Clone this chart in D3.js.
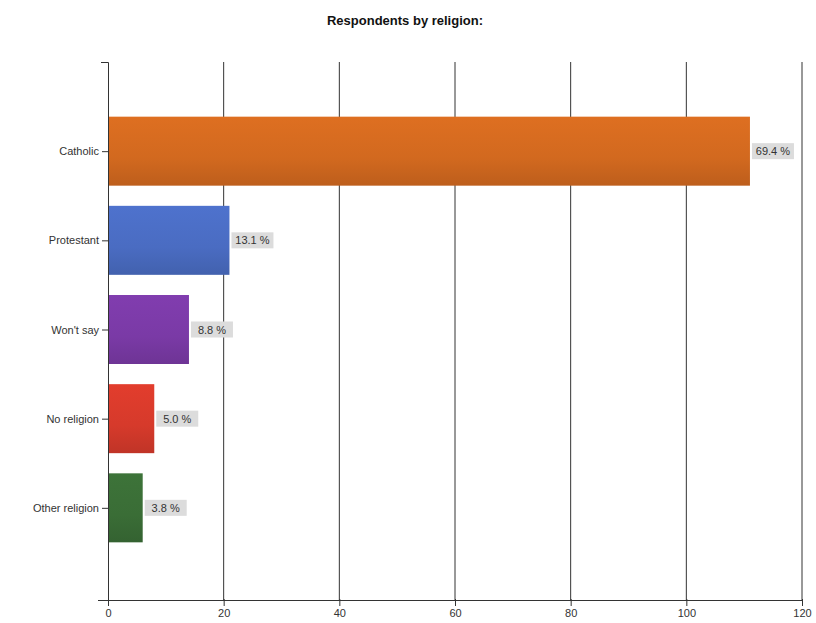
<!DOCTYPE html>
<html>
<head>
<meta charset="utf-8">
<script src="https://cdn.jsdelivr.net/npm/d3@7"></script>
<style>
  html, body { margin: 0; padding: 0; background: #fff; }
  svg { display: block; font-family: "Liberation Sans", Arial, sans-serif; }
</style>
</head>
<body>
<svg id="chart" width="816" height="623"></svg>
<script>
// Respondents by religion (counts)
const categories = ["Catholic", "Protestant", "Won't say", "No religion", "Other religion"];
const counts = [111, 21, 14, 8, 6];
const barColors = ["#d2691f", "#4a6cc2", "#7a3aa6", "#d63a2b", "#3a6d36"];
const xTicks = [0, 20, 40, 60, 80, 100, 120];
const title = "Respondents by religion:";

const svg = d3.select("#chart");
const margin = { left: 108, right: 14, top: 62, bottom: 23 };
const W = 816, H = 623;
const plotW = W - margin.left - margin.right;
const plotH = H - margin.top - margin.bottom;

const total = d3.sum(counts);

const x = d3.scaleLinear().domain([0, 120]).range([0, plotW]);
const y = d3.scalePoint().domain(categories).range([0, plotH - 3]).padding(1);
const barH = 69;

const defs = svg.append("defs");
barColors.forEach((c, i) => {
  const g = defs.append("linearGradient").attr("id", "grad" + i)
    .attr("x1", 0).attr("y1", 0).attr("x2", 0).attr("y2", 1);
  const base = d3.color(c);
  g.append("stop").attr("offset", "0%").attr("stop-color", base.brighter(0.15));
  g.append("stop").attr("offset", "60%").attr("stop-color", base);
  g.append("stop").attr("offset", "100%").attr("stop-color", base.darker(0.3));
});

svg.append("text")
  .attr("x", 405).attr("y", 25)
  .attr("text-anchor", "middle")
  .attr("font-size", 13).attr("font-weight", "bold")
  .attr("fill", "#111")
  .text(title);

const g = svg.append("g").attr("transform", `translate(${margin.left},${margin.top})`);

// vertical gridlines
g.selectAll("line.grid").data(xTicks.slice(1)).join("line")
  .attr("class", "grid")
  .attr("x1", d => x(d)).attr("x2", d => x(d))
  .attr("y1", 0).attr("y2", plotH)
  .attr("stroke", "#333").attr("stroke-width", 1);

// bars
g.selectAll("rect.bar").data(categories).join("rect")
  .attr("class", "bar")
  .attr("x", 0)
  .attr("y", d => y(d) - barH / 2)
  .attr("width", (d, i) => x(counts[i]))
  .attr("height", barH)
  .attr("fill", (d, i) => `url(#grad${i})`);

// value labels (percent of total)
const lbl = g.selectAll("g.lbl").data(categories).join("g")
  .attr("class", "lbl")
  .attr("transform", (d, i) => `translate(${x(counts[i]) + 2},${y(d)})`);
lbl.append("rect")
  .attr("x", 0).attr("y", -8)
  .attr("width", 42).attr("height", 16)
  .attr("fill", "#dcdcdc");
lbl.append("text")
  .attr("x", 21).attr("y", 4)
  .attr("text-anchor", "middle")
  .attr("font-size", 11).attr("fill", "#333")
  .text((d, i) => (counts[i] / total * 100).toFixed(1) + " %");

// x axis
const xAxis = g.append("g")
  .attr("transform", `translate(0,${plotH})`)
  .call(d3.axisBottom(x).tickValues(xTicks).tickSize(6).tickSizeOuter(0).tickPadding(3));
xAxis.select(".domain").attr("stroke", "#333").attr("d", `M-10,0.5H${plotW + 1}`);
xAxis.selectAll(".tick line").attr("stroke", "#333").attr("y1", -1);
xAxis.selectAll(".tick text").attr("font-size", 11).attr("fill", "#333")
  .attr("font-family", "Liberation Sans, Arial, sans-serif");

// y axis
const yAxis = g.append("g")
  .call(d3.axisLeft(y).tickSize(6).tickSizeOuter(0).tickPadding(3));
yAxis.select(".domain").attr("stroke", "#333").attr("d", `M-7,0.5H0.5V${plotH}`);
yAxis.selectAll(".tick line").attr("stroke", "#333");
yAxis.selectAll(".tick text").attr("font-size", 11).attr("fill", "#333")
  .attr("font-family", "Liberation Sans, Arial, sans-serif");
</script>
</body>
</html>
